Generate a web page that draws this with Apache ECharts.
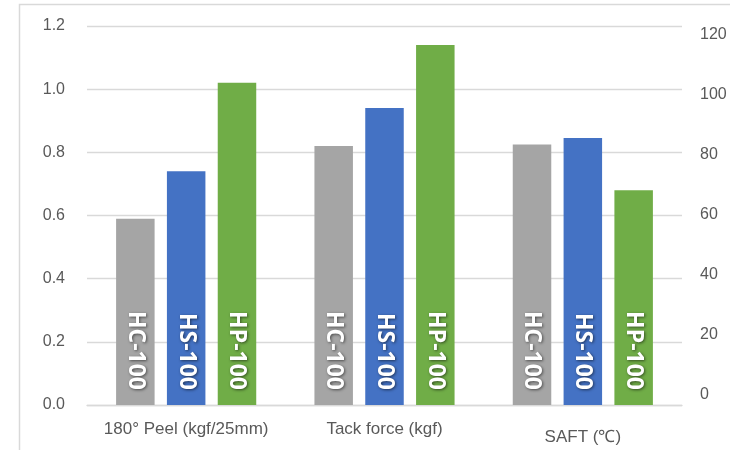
<!DOCTYPE html>
<html>
<head>
<meta charset="utf-8">
<script src="https://cdn.jsdelivr.net/npm/echarts@6/dist/echarts.min.js"></script>
<style>
  html, body { margin: 0; padding: 0; background: #fff; }
  #chart { width: 730px; height: 450px; }
</style>
</head>
<body>
<div id="chart"></div>
<script>
// Test groups along the x axis
const categories = ['180° Peel (kgf/25mm)', 'Tack force (kgf)', 'SAFT (℃)'];
// Products, one bar series each
const products = ['HC-100', 'HS-100', 'HP-100'];
// Measured values per test, in product order
const peel = [0.59, 0.74, 1.02];   // kgf/25mm, left axis
const tack = [0.82, 0.94, 1.14];   // kgf, left axis
const saft = [82.5, 84.5, 68];     // ℃, right axis
// Tick labels
const leftTicks = [0, 0.2, 0.4, 0.6, 0.8, 1.0, 1.2];
const rightTicks = [0, 20, 40, 60, 80, 100, 120];

const colors = ['#A5A5A5', '#4472C4', '#70AD47'];
// right axis spans 0–120 over the same height as the left 0–1.2
const rightToLeft = leftTicks[leftTicks.length - 1] / rightTicks[rightTicks.length - 1];

const chart = echarts.init(document.getElementById('chart'), null, { renderer: 'canvas' });

const labelColor = '#595959';
const gridColor = '#D9D9D9';

const series = products.map((name, i) => ({
  name: name,
  type: 'bar',
  xAxisIndex: 0,
  yAxisIndex: 0,
  barWidth: 38.5,
  barGap: '32%',
  itemStyle: { color: colors[i] },
  data: [peel[i], tack[i], +(saft[i] * rightToLeft).toFixed(4)],
  label: {
    show: true,
    position: 'insideBottom',
    distance: 15,
    rotate: -90,
    align: 'right',
    verticalAlign: 'middle',
    formatter: () => name,
    color: '#FFFFFF',
    fontFamily: 'Open Sans',
    fontWeight: 'bold',
    fontSize: 23,
    textShadowColor: 'rgba(0,0,0,0.55)',
    textShadowBlur: 3,
    textShadowOffsetX: 1,
    textShadowOffsetY: 1
  }
}));

chart.setOption({
  animation: false,
  backgroundColor: '#FFFFFF',
  graphic: [{
    type: 'rect',
    shape: { x: 19.5, y: 4.5, width: 900, height: 600 },
    style: { fill: null, stroke: gridColor, lineWidth: 1.5 },
    silent: true,
    z: -10
  }],
  grid: [
    { left: 87, right: 48, top: 26, bottom: 45 },
    { left: 87, right: 48, top: 35, bottom: 55 }
  ],
  xAxis: [
    {
      gridIndex: 0,
      type: 'category',
      data: categories,
      axisLine: { show: true, lineStyle: { color: gridColor, width: 1.3 } },
      axisTick: { show: false },
      axisLabel: {
        interval: 0,
        color: labelColor,
        fontFamily: 'Liberation Sans',
        fontSize: 17,
        margin: 16,
        formatter: (v, idx) => idx === 2 ? '{low|' + v + '}' : v,
        rich: { low: { color: labelColor, fontFamily: 'Liberation Sans', fontSize: 17, padding: [8, 0, 0, 0] } }
      }
    },
    { gridIndex: 1, type: 'value', show: false, min: 0, max: 1 }
  ],
  yAxis: [
    {
      gridIndex: 0,
      type: 'value',
      min: 0,
      max: 1.2,
      interval: 0.2,
      axisLine: { show: false },
      axisTick: { show: false },
      splitLine: { lineStyle: { color: gridColor, width: 1.3 } },
      axisLabel: {
        color: labelColor,
        fontFamily: 'Liberation Sans',
        fontSize: 16,
        margin: 22,
        formatter: v => v.toFixed(1)
      }
    },
    {
      gridIndex: 1,
      type: 'value',
      position: 'right',
      min: 0,
      max: 120,
      interval: 20,
      axisLine: { show: false },
      axisTick: { show: false },
      splitLine: { show: false },
      axisLabel: {
        color: labelColor,
        fontFamily: 'Liberation Sans',
        fontSize: 16,
        margin: 18
      }
    }
  ],
  series: series
});
</script>
</body>
</html>
